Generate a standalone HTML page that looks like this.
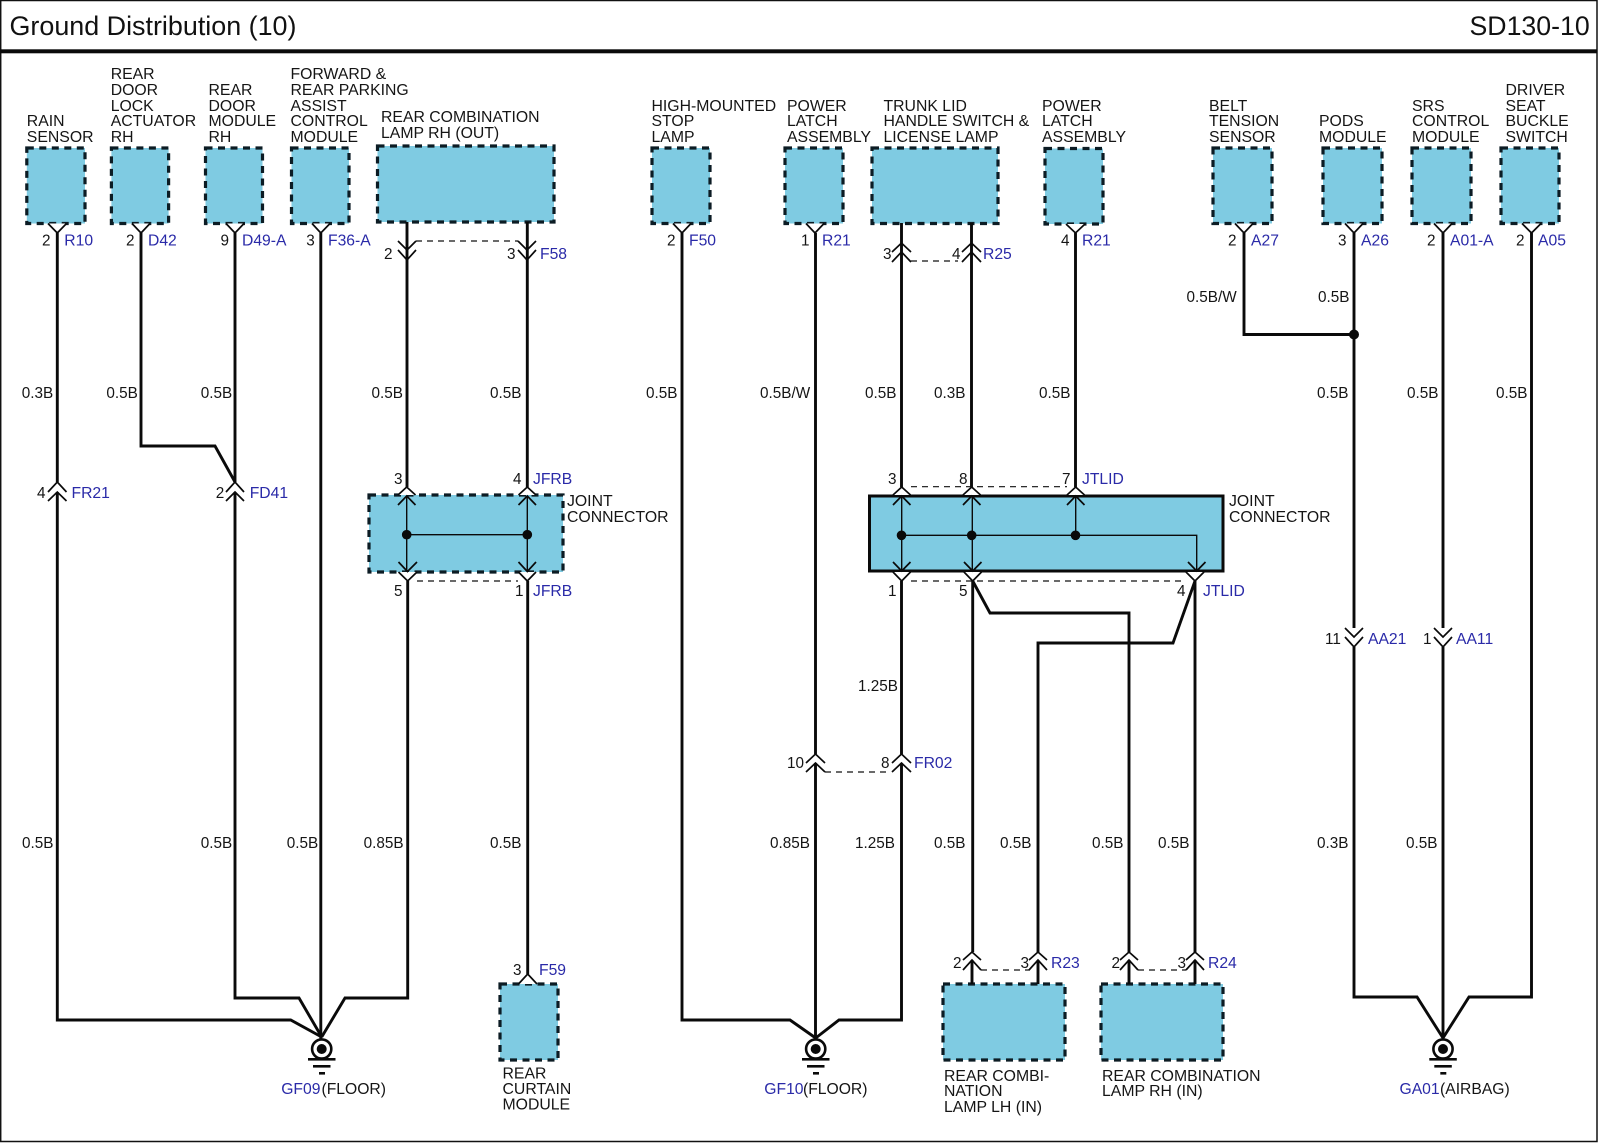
<!DOCTYPE html>
<html lang="en">
<head>
<meta charset="utf-8">
<title>Ground Distribution (10)</title>
<style>
html,body{margin:0;padding:0;background:#fff}
svg{display:block}
text{font-family:"Liberation Sans",Arial,sans-serif;font-size:15.3px;fill:#151515}
.b{fill:#2a2aa8;font-size:15.7px}
.f{font-size:15.7px}
.h{font-size:26.9px;fill:#111}
.h2{font-size:26.7px;fill:#111}
.n{font-size:15.8px}
.box{fill:#7fcbe2;stroke:#0c1c24;stroke-width:3.2;stroke-dasharray:7 5.5}
.w{fill:none;stroke:#0a0a0a;stroke-width:2.9;stroke-linejoin:miter}
.t{fill:none;stroke:#0a0a0a;stroke-width:1.4}
.c{fill:none;stroke:#0a0a0a;stroke-width:1.7}
.cw{fill:#fff;stroke:#0a0a0a;stroke-width:1.7}
.d{fill:none;stroke:#111;stroke-width:1.2;stroke-dasharray:6 5}
</style>
</head>
<body>
<svg xmlns="http://www.w3.org/2000/svg" width="1600" height="1143" viewBox="0 0 1600 1143">
<rect width="1600" height="1143" fill="#fff"/>
<!-- frame -->
<path d="M0.7 0.5H1597V1141.5H0.7Z" fill="none" stroke="#111" stroke-width="1.5"/>
<rect x="0" y="49.3" width="1597" height="4" fill="#0a0a0a"/>
<text class="h" x="9.5" y="35">Ground Distribution (10)</text>
<text class="h2" x="1469.5" y="35">SD130-10</text>

<!-- boxes -->
<rect class="box" x="26.8" y="148" width="58.2" height="75.5"/>
<rect class="box" x="111.4" y="148" width="57.2" height="75.5"/>
<rect class="box" x="205.5" y="148" width="57" height="75.5"/>
<rect class="box" x="291.5" y="148" width="57.5" height="75.5"/>
<rect class="box" x="377.5" y="146" width="176.5" height="76"/>
<rect class="box" x="652" y="148" width="58" height="75.5"/>
<rect class="box" x="785" y="148" width="58" height="75.5"/>
<rect class="box" x="872" y="148" width="126" height="75.5"/>
<rect class="box" x="1045" y="148.5" width="58" height="75.5"/>
<rect class="box" x="1213" y="148" width="59" height="75.5"/>
<rect class="box" x="1323" y="148" width="59" height="75.5"/>
<rect class="box" x="1412" y="148" width="59" height="75.5"/>
<rect class="box" x="1501" y="148" width="58" height="75.5"/>
<rect class="box" x="369" y="495" width="194" height="77"/>
<rect x="869.5" y="496" width="353.5" height="75" fill="#7fcbe2" stroke="#0a0a0a" stroke-width="3"/>
<rect class="box" x="500" y="984" width="58" height="76"/>
<rect class="box" x="943" y="984" width="122" height="76"/>
<rect class="box" x="1101" y="984" width="122" height="76"/>

<!-- wires: left group -->
<path class="w" d="M57.3 233V482M57.3 492V1020H290.7L321.7 1037"/>
<path class="w" d="M141 233V446H215L235 482"/>
<path class="w" d="M235 233V482M235 492V998H299L321.7 1037"/>
<path class="w" d="M320.8 233V1040"/>
<path class="w" d="M407 222V487M407.7 581V998H345L321.7 1037"/>
<path class="w" d="M527.3 222V487M527.7 581V974"/>

<!-- wires: middle group -->
<path class="w" d="M682 233V1020H790L815.7 1038"/>
<path class="w" d="M815.5 233V754M815.5 763V1040"/>
<path class="w" d="M901.5 223V487M901.5 581V754M901.5 763V1020H839L815.7 1038"/>
<path class="w" d="M971.5 223V487"/>
<path class="w" d="M1075.5 233V487"/>
<path class="w" d="M972.7 581V952M972 960V984"/>
<path class="w" d="M972.7 581L990 613H1129V952M1129 960V984"/>
<path class="w" d="M1195 581L1173 643H1038V952M1038 960V984"/>
<path class="w" d="M1195 581V952M1195 960V984"/>

<!-- wires: right group -->
<path class="w" d="M1244 233V334.5H1354"/>
<path class="w" d="M1354 233V628M1354 647V997H1417L1443 1038"/>
<path class="w" d="M1443 233V628M1443 647V1040"/>
<path class="w" d="M1531.5 233V997H1469L1443 1038"/>
<circle cx="1354" cy="334.5" r="5" fill="#0a0a0a"/>

<!-- Y connectors on top row -->
<path class="cw" d="M48 223.5L57.3 233L66.5 223.5M132 223.5L141 233L150 223.5M226 223.5L235 233L244 223.5M312 223.5L320.8 233L330 223.5M673 223.5L682 233L691 223.5M806 223.5L815 233L824 223.5M1066 224L1075.5 233L1085 224M1235 223.5L1244 233L1253 223.5M1345 223.5L1354 233L1363 223.5M1434 223.5L1443 233L1452 223.5M1522 223.5L1531.5 233L1541 223.5"/>

<!-- F58 double chevrons -->
<path class="c" d="M398 241L407 250L416 241M398 250L407 260L416 250M518 241L527 250L536 241M518 250L527 260L536 250"/>
<path class="d" d="M416 241H518"/>
<!-- R25 double chevrons -->
<path class="c" d="M892 252L901.5 243L911 252M892 262L901.5 252L911 262M962 252L971.5 243L981 252M962 262L971.5 252L981 262"/>
<path class="d" d="M911 261H958"/>
<!-- FR21 FD41 -->
<path class="c" d="M48 492L57.3 482L66.5 492M48 501L57.3 492L66.5 501M226 492L235 482L244 492M226 501L235 492L244 501"/>
<!-- FR02 -->
<path class="c" d="M806 763L815.5 754L825 763M806 772L815.5 763L825 772M892 763L901.5 754L911 763M892 772L901.5 763L911 772"/>
<path class="d" d="M825 772H888"/>
<!-- AA21 AA11 -->
<path class="c" d="M1345 628L1354 637L1363 628M1345 637L1354 647L1363 637M1434 628L1443 637L1452 628M1434 637L1443 647L1452 637"/>
<!-- R23 R24 -->
<path class="c" d="M963 960L972 952L981 960M963 970L972 960L981 970M1029 960L1038 952L1047 960M1029 970L1038 960L1047 970M1120 960L1129 952L1138 960M1120 970L1129 960L1138 970M1186 960L1195 952L1204 960M1186 970L1195 960L1204 970"/>
<path class="d" d="M981 970H1030M1138 970H1186"/>
<!-- F59 -->
<path class="cw" d="M518.5 984L527.7 974L537 984"/>

<!-- joint JFRB -->
<path class="cw" d="M398 495L406.7 487L415.5 495M518.5 495L527.3 487L536 495M398.5 572L407.7 581L417 572M518.5 572L527.3 581L536 572"/>
<path class="t" d="M406.7 496V571M527.3 496V571M406.7 534.7H527.3"/>
<path class="c" d="M398 505L406.7 496L415.5 505M518.5 505L527.3 496L536 505M398.5 562L407.5 571.5L417 562M518.5 562L527.3 571.5L536 562"/>
<circle cx="406.7" cy="534.7" r="4.8" fill="#0a0a0a"/>
<circle cx="527.3" cy="534.7" r="4.8" fill="#0a0a0a"/>
<path class="d" d="M417 581H518"/>

<!-- joint JTLID -->
<path class="cw" d="M893 495L901.7 487L910.5 495M963 495L971.7 487L980.5 495M1067 495L1075.7 487L1084.5 495M893 572L901.7 581L910.5 572M964 572L972.7 581L981.5 572M1186 572L1195 581L1204 572"/>
<path class="t" d="M901.7 496V571M972.3 496V571M1075.7 496V535.3M901.7 535.3H1196.7V571"/>
<path class="c" d="M893 505L901.7 496L910.5 505M963 505L971.7 496L980.5 505M1067 505L1075.7 496L1084.5 505M893 562L901.7 571L910.5 562M964 562L972.7 571L981.5 562M1188 562L1196.7 571L1205.5 562"/>
<circle cx="901.5" cy="535.3" r="4.8" fill="#0a0a0a"/>
<circle cx="971.7" cy="535.3" r="4.8" fill="#0a0a0a"/>
<circle cx="1075.5" cy="535.3" r="4.8" fill="#0a0a0a"/>
<path class="d" d="M911 486.7H1067M911 581H1186"/>

<!-- grounds -->
<g fill="#fff" stroke="#0a0a0a">
<circle cx="321.7" cy="1049" r="9.6" stroke-width="2.6"/>
<circle cx="815.7" cy="1049" r="9.6" stroke-width="2.6"/>
<circle cx="1443" cy="1049" r="9.6" stroke-width="2.6"/>
</g>
<g fill="#0a0a0a">
<circle cx="321.7" cy="1049" r="5"/><rect x="308" y="1058" width="27.5" height="2.6"/><rect x="313" y="1065" width="17.5" height="2.6"/><rect x="319" y="1072" width="6" height="2.6"/>
<circle cx="815.7" cy="1049" r="5"/><rect x="802" y="1058" width="27.5" height="2.6"/><rect x="807" y="1065" width="17.5" height="2.6"/><rect x="813" y="1072" width="6" height="2.6"/>
<circle cx="1443" cy="1049" r="5"/><rect x="1429.3" y="1058" width="27.5" height="2.6"/><rect x="1434.3" y="1065" width="17.5" height="2.6"/><rect x="1440.3" y="1072" width="6" height="2.6"/>
</g>

<!-- component labels -->
<g class="n">
<text class="n" x="26.8" y="126">RAIN</text><text class="n" x="26.8" y="142">SENSOR</text>
<text class="n" x="110.7" y="79">REAR</text><text class="n" x="110.7" y="95">DOOR</text><text class="n" x="110.7" y="111">LOCK</text><text class="n" x="110.7" y="126">ACTUATOR</text><text class="n" x="110.7" y="142">RH</text>
<text class="n" x="208.5" y="95">REAR</text><text class="n" x="208.5" y="111">DOOR</text><text class="n" x="208.5" y="126">MODULE</text><text class="n" x="208.5" y="142">RH</text>
<text class="n" x="290.5" y="79">FORWARD &amp;</text><text class="n" x="290.5" y="95">REAR PARKING</text><text class="n" x="290.5" y="111">ASSIST</text><text class="n" x="290.5" y="126">CONTROL</text><text class="n" x="290.5" y="142">MODULE</text>
<text class="n" x="381" y="122">REAR COMBINATION</text><text class="n" x="381" y="138">LAMP RH (OUT)</text>
<text class="n" x="651.5" y="111">HIGH-MOUNTED</text><text class="n" x="651.5" y="126">STOP</text><text class="n" x="651.5" y="142">LAMP</text>
<text class="n" x="787" y="111">POWER</text><text class="n" x="787" y="126">LATCH</text><text class="n" x="787" y="142">ASSEMBLY</text>
<text class="n" x="883.5" y="111">TRUNK LID</text><text class="n" x="883.5" y="126">HANDLE SWITCH &amp;</text><text class="n" x="883.5" y="142">LICENSE LAMP</text>
<text class="n" x="1042" y="111">POWER</text><text class="n" x="1042" y="126">LATCH</text><text class="n" x="1042" y="142">ASSEMBLY</text>
<text class="n" x="1209" y="111">BELT</text><text class="n" x="1209" y="126">TENSION</text><text class="n" x="1209" y="142">SENSOR</text>
<text class="n" x="1319" y="126">PODS</text><text class="n" x="1319" y="142">MODULE</text>
<text class="n" x="1412" y="111">SRS</text><text class="n" x="1412" y="126">CONTROL</text><text class="n" x="1412" y="142">MODULE</text>
<text class="n" x="1505.5" y="95">DRIVER</text><text class="n" x="1505.5" y="111">SEAT</text><text class="n" x="1505.5" y="126">BUCKLE</text><text class="n" x="1505.5" y="142">SWITCH</text>
<text class="n" x="567" y="506">JOINT</text><text class="n" x="567" y="522">CONNECTOR</text>
<text class="n" x="1229" y="506">JOINT</text><text class="n" x="1229" y="522">CONNECTOR</text>
<text class="n" x="502.5" y="1078.5">REAR</text><text class="n" x="502.5" y="1094">CURTAIN</text><text class="n" x="502.5" y="1109.5">MODULE</text>
<text class="n" x="944" y="1081">REAR COMBI-</text><text class="n" x="944" y="1096">NATION</text><text class="n" x="944" y="1112">LAMP LH (IN)</text>
<text class="n" x="1102" y="1081">REAR COMBINATION</text><text class="n" x="1102" y="1096">LAMP RH (IN)</text>
</g>

<!-- pin numbers -->
<text x="42" y="245.6">2</text><text x="126" y="245.6">2</text><text x="220.5" y="245.6">9</text><text x="306.3" y="245.6">3</text>
<text x="384" y="258.8">2</text><text x="507" y="258.8">3</text>
<text x="667" y="245.6">2</text><text x="801" y="245.6">1</text><text x="883" y="258.8">3</text><text x="952" y="258.8">4</text><text x="1061" y="245.6">4</text>
<text x="1228" y="245.6">2</text><text x="1338" y="245.6">3</text><text x="1427" y="245.6">2</text><text x="1516" y="245.6">2</text>
<text x="37" y="498">4</text><text x="215.7" y="498">2</text>
<text x="394" y="484">3</text><text x="513" y="484">4</text><text x="394" y="596">5</text><text x="515" y="596">1</text>
<text x="888" y="484">3</text><text x="959" y="484">8</text><text x="1062" y="484">7</text>
<text x="888" y="596">1</text><text x="959" y="596">5</text><text x="1177" y="596">4</text>
<text x="1325" y="644">11</text><text x="1423" y="644">1</text>
<text x="787" y="768">10</text><text x="881" y="768">8</text>
<text x="513" y="975">3</text>
<text x="953" y="968">2</text><text x="1020.5" y="968">3</text><text x="1111.5" y="968">2</text><text x="1177.5" y="968">3</text>

<!-- connector IDs -->
<g>
<text class="b" x="64.3" y="245.6">R10</text><text class="b" x="148" y="245.6">D42</text><text class="b" x="242" y="245.6">D49-A</text><text class="b" x="328" y="245.6">F36-A</text>
<text class="b" x="540" y="258.8">F58</text>
<text class="b" x="689" y="245.6">F50</text><text class="b" x="822" y="245.6">R21</text><text class="b" x="983" y="258.8">R25</text><text class="b" x="1082" y="245.6">R21</text>
<text class="b" x="1251" y="245.6">A27</text><text class="b" x="1361" y="245.6">A26</text><text class="b" x="1450" y="245.6">A01-A</text><text class="b" x="1538" y="245.6">A05</text>
<text class="b" x="71.5" y="498">FR21</text><text class="b" x="249.7" y="498">FD41</text>
<text class="b" x="533" y="484">JFRB</text><text class="b" x="533" y="596">JFRB</text>
<text class="b" x="1082" y="484">JTLID</text><text class="b" x="1203" y="596">JTLID</text>
<text class="b" x="1368" y="644">AA21</text><text class="b" x="1456" y="644">AA11</text>
<text class="b" x="914" y="768">FR02</text>
<text class="b" x="539" y="975">F59</text>
<text class="b" x="1051" y="968">R23</text><text class="b" x="1208" y="968">R24</text>
<text class="b" x="281.2" y="1094">GF09</text><text class="f" x="321.5" y="1094">(FLOOR)</text>
<text class="b" x="764.3" y="1094">GF10</text><text class="f" x="803" y="1094">(FLOOR)</text>
<text class="b" x="1399.5" y="1094">GA01</text><text class="f" x="1440" y="1094">(AIRBAG)</text>
</g>

<!-- wire specs -->
<text x="21.7" y="398">0.3B</text><text x="106.4" y="398">0.5B</text><text x="200.7" y="398">0.5B</text><text x="371.5" y="398">0.5B</text><text x="490" y="398">0.5B</text>
<text x="646" y="398">0.5B</text><text x="760" y="398">0.5B/W</text><text x="865" y="398">0.5B</text><text x="934" y="398">0.3B</text><text x="1039" y="398">0.5B</text>
<text x="1317" y="398">0.5B</text><text x="1407" y="398">0.5B</text><text x="1496" y="398">0.5B</text>
<text x="1186.5" y="302">0.5B/W</text><text x="1318" y="302">0.5B</text>
<text x="858" y="691">1.25B</text>
<text x="22" y="848">0.5B</text><text x="200.7" y="848">0.5B</text><text x="286.8" y="848">0.5B</text><text x="363.6" y="848">0.85B</text><text x="490" y="848">0.5B</text>
<text x="770" y="848">0.85B</text><text x="855" y="848">1.25B</text><text x="934" y="848">0.5B</text><text x="1000" y="848">0.5B</text><text x="1092" y="848">0.5B</text><text x="1158" y="848">0.5B</text>
<text x="1317" y="848">0.3B</text><text x="1406" y="848">0.5B</text>
</svg>
</body>
</html>
